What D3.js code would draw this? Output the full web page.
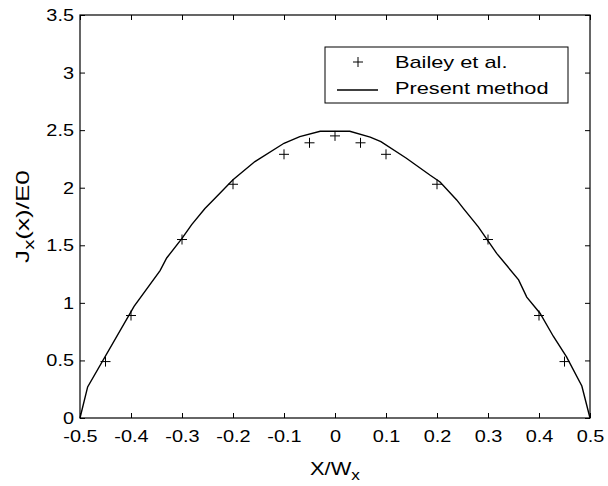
<!DOCTYPE html>
<html><head><meta charset="utf-8">
<script src="https://cdn.jsdelivr.net/npm/d3@7"></script>
<style>body{margin:0;background:#fff}svg{display:block}text{font-family:Arial,"Liberation Sans",sans-serif;fill:#000}</style>
</head><body><svg id="c" width="608" height="486"></svg>
<script>
// Bailey et al. points
const baileyX = [-0.45,-0.4,-0.3,-0.2,-0.1,-0.05,0,0.05,0.1,0.2,0.3,0.4,0.45];
const baileyY = [0.49,0.89,1.55,2.03,2.29,2.39,2.45,2.39,2.29,2.03,1.55,0.89,0.49];
// Present method curve
const curveX = [-0.5,-0.485,-0.394,-0.343,-0.33,-0.3,-0.281,-0.255,-0.2386,-0.2,-0.157,-0.1,-0.069,-0.029,0.029,0.069,0.09,0.14,0.186,0.206,0.2386,0.2516,0.281,0.317,0.36,0.376,0.402,0.428,0.454,0.484,0.5];
const curveY = [0,0.27,0.97,1.28,1.39,1.56,1.68,1.82,1.894,2.07,2.227,2.386,2.444,2.49,2.49,2.44,2.40,2.256,2.11,2.05,1.894,1.82,1.66,1.43,1.2,1.05,0.91,0.71,0.53,0.278,0];
const xTicks = [-0.5,-0.4,-0.3,-0.2,-0.1,0,0.1,0.2,0.3,0.4,0.5];
const yTicks = [0,0.5,1,1.5,2,2.5,3,3.5];
const legendLabels = ["Bailey et al.","Present method"];

const svg = d3.select("#c");
const L=80,R=590,T=15,B=418;
const x = d3.scaleLinear().domain([-0.5,0.5]).range([L,R]);
const y = d3.scaleLinear().domain([0,3.5]).range([B,T]);
const fmt = d => String(d);
const FS=17, SX=1.17;

svg.append("rect").attr("x",L).attr("y",T).attr("width",R-L).attr("height",B-T)
  .attr("fill","none").attr("stroke","#000").attr("stroke-width",1.2);

const tk=5;
const gb = svg.append("g").attr("transform",`translate(0,${B})`)
  .call(d3.axisBottom(x).tickValues(xTicks).tickSize(-tk).tickPadding(12).tickFormat(fmt));
const gt = svg.append("g").attr("transform",`translate(0,${T})`)
  .call(d3.axisTop(x).tickValues(xTicks).tickSize(-tk).tickFormat(""));
const gl = svg.append("g").attr("transform",`translate(${L},0)`)
  .call(d3.axisLeft(y).tickValues(yTicks).tickSize(-tk).tickPadding(6).tickFormat(fmt));
const gr = svg.append("g").attr("transform",`translate(${R},0)`)
  .call(d3.axisRight(y).tickValues(yTicks).tickSize(-tk).tickFormat(""));
[gb,gt,gl,gr].forEach(g=>{g.select(".domain").remove();
  g.selectAll("line").attr("stroke","#000");
  g.selectAll("text").attr("font-size",FS)
   .attr("font-family","Arial, 'Liberation Sans', sans-serif").attr("fill","#000");});
gb.selectAll("text").attr("transform",`scale(${SX},1)`);
gl.selectAll("text").attr("x",-6/SX).attr("transform",`scale(${SX},1)`);

const line = d3.line().x(d=>x(d[0])).y(d=>y(d[1]));
svg.append("path").datum(curveX.map((v,i)=>[v,curveY[i]]))
  .attr("d",line).attr("fill","none").attr("stroke","#000").attr("stroke-width",1.4);

const ms=5;
const pg = svg.append("g").attr("stroke","#000").attr("stroke-width",1);
baileyX.forEach((v,i)=>{
  const cx=x(v), cy=y(baileyY[i]);
  pg.append("path").attr("d",`M${cx-ms},${cy}H${cx+ms}M${cx},${cy-ms}V${cy+ms}`);
});

const lg = svg.append("g");
lg.append("rect").attr("x",325).attr("y",47).attr("width",243).attr("height",56)
  .attr("fill","#fff").attr("stroke","#000").attr("stroke-width",1);
lg.append("path").attr("d",`M${358-ms},62H${358+ms}M358,${62-ms}V${62+ms}`).attr("stroke","#000").attr("stroke-width",1);
lg.append("line").attr("x1",337).attr("x2",378).attr("y1",90).attr("y2",90).attr("stroke","#000").attr("stroke-width",1.4);
legendLabels.forEach((t,i)=>{
  lg.append("text").attr("transform",`translate(395,${68+26*i}) scale(1.28,1)`).attr("font-size",FS).text(t);
});

const xt = svg.append("text").attr("transform",`translate(${(L+R)/2},475) scale(1.15,1)`).attr("text-anchor","middle").attr("font-size",19);
xt.append("tspan").text("X/W");
xt.append("tspan").attr("font-size",15).attr("dy",5).text("x");

const yt = svg.append("text").attr("transform",`translate(29,${(T+B)/2}) rotate(-90) scale(1.45,1)`).attr("text-anchor","middle").attr("font-size",18);
yt.append("tspan").text("J");
yt.append("tspan").attr("font-size",14).attr("dy",5).text("x");
yt.append("tspan").attr("dy",-5).text("(x)/E0");
</script></body></html>
